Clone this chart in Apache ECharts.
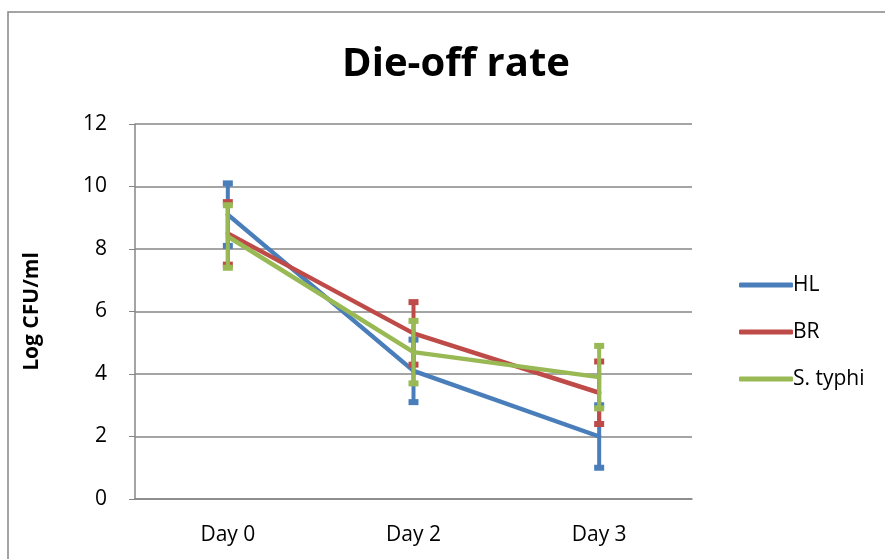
<!DOCTYPE html>
<html>
<head>
<meta charset="utf-8">
<script src="https://cdn.jsdelivr.net/npm/echarts@6/dist/echarts.min.js"></script>
<style>html,body{margin:0;padding:0;background:#fff;}#c{width:885px;height:559px;}</style>
</head>
<body>
<div id="c"></div>
<script>
var categories = ['Day 0', 'Day 2', 'Day 3'];
var seriesNames = ['HL', 'BR', 'S. typhi'];
var hlValues = [9.1, 4.1, 2.0];
var brValues = [8.5, 5.3, 3.4];
var typhiValues = [8.4, 4.7, 3.9];
var hlErr = [1, 1, 1];
var brErr = [1, 1, 1];
var typhiErr = [1, 1, 1];
var yTicks = [0, 2, 4, 6, 8, 10, 12];

var colors = ['#4A7EBB', '#BE4B48', '#98B954'];
var FONT = 'Open Sans';

function errData(vals, errs) {
  return vals.map(function (v, i) { return [i, v - errs[i], v + errs[i]]; });
}
function errSeries(name, vals, errs, color, z) {
  return {
    type: 'custom', name: name, z: z, silent: true,
    data: errData(vals, errs),
    renderItem: function (params, api) {
      var x = api.value(0);
      var lo = api.coord([x, api.value(1)]);
      var hi = api.coord([x, api.value(2)]);
      var hw = 5;
      var st = { stroke: color, lineWidth: 4 };
      var cap = { stroke: color, lineWidth: 6 };
      return { type: 'group', children: [
        { type: 'line', shape: { x1: lo[0], y1: lo[1], x2: hi[0], y2: hi[1] }, style: st },
        { type: 'line', shape: { x1: lo[0] - hw, y1: lo[1], x2: lo[0] + hw, y2: lo[1] }, style: cap },
        { type: 'line', shape: { x1: hi[0] - hw, y1: hi[1], x2: hi[0] + hw, y2: hi[1] }, style: cap }
      ]};
    }
  };
}
function lineSeries(name, vals, color, z) {
  return {
    type: 'line', name: name, data: vals, z: z, symbol: 'none',
    lineStyle: { color: color, width: 4.5, cap: 'round', join: 'round' }, itemStyle: { color: color },
    emphasis: { disabled: true }
  };
}

var chart = echarts.init(document.getElementById('c'));
chart.setOption({
  animation: false,
  title: {
    text: 'Die-off rate', left: 451, top: 40, textAlign: 'center',
    textStyle: { fontFamily: FONT, fontWeight: 'bold', fontSize: 40, color: '#000' }
  },
  graphic: [{
    type: 'rect', shape: { x: 8, y: 12, width: 900, height: 600 },
    style: { fill: 'none', stroke: '#868686', lineWidth: 1.5 }, silent: true, z: -1
  }],
  legend: {
    orient: 'vertical', left: 734, top: 266, itemGap: 19,
    itemWidth: 54, itemHeight: 5,
    data: seriesNames.map(function (n, i) {
      return { name: n, icon: 'roundRect', itemStyle: { color: colors[i], borderWidth: 0 } };
    }),
    textStyle: { fontFamily: FONT, fontSize: 21, color: '#000', padding: [0, 0, 0, -5], lineHeight: 28 }
  },
  grid: { left: 135, right: 193, top: 124, bottom: 60 },
  xAxis: {
    type: 'category', data: categories, boundaryGap: true,
    axisLine: { lineStyle: { color: '#868686', width: 1.5 } },
    axisTick: { show: false },
    axisLabel: { fontFamily: FONT, fontSize: 21, color: '#000', margin: 26 }
  },
  yAxis: {
    type: 'value', min: 0, max: 12, interval: 2,
    name: 'Log CFU/ml', nameLocation: 'middle', nameGap: 92, nameRotate: 90,
    nameTextStyle: { fontFamily: FONT, fontWeight: 'bold', fontSize: 21, color: '#000' },
    axisLine: { show: true, lineStyle: { color: '#868686', width: 1.5 } },
    axisTick: { show: true, length: 6, lineStyle: { color: '#868686' } },
    splitLine: { lineStyle: { color: '#868686', width: 1.5 } },
    axisLabel: { fontFamily: FONT, fontSize: 21, color: '#000', margin: 28,
      formatter: function (v) { return yTicks.indexOf(v) >= 0 ? String(v) : ''; } }
  },
  series: [
    lineSeries(seriesNames[0], hlValues, colors[0], 2),
    errSeries(seriesNames[0], hlValues, hlErr, colors[0], 3),
    lineSeries(seriesNames[1], brValues, colors[1], 4),
    errSeries(seriesNames[1], brValues, brErr, colors[1], 5),
    lineSeries(seriesNames[2], typhiValues, colors[2], 6),
    errSeries(seriesNames[2], typhiValues, typhiErr, colors[2], 7)
  ]
});
</script>
</body>
</html>
